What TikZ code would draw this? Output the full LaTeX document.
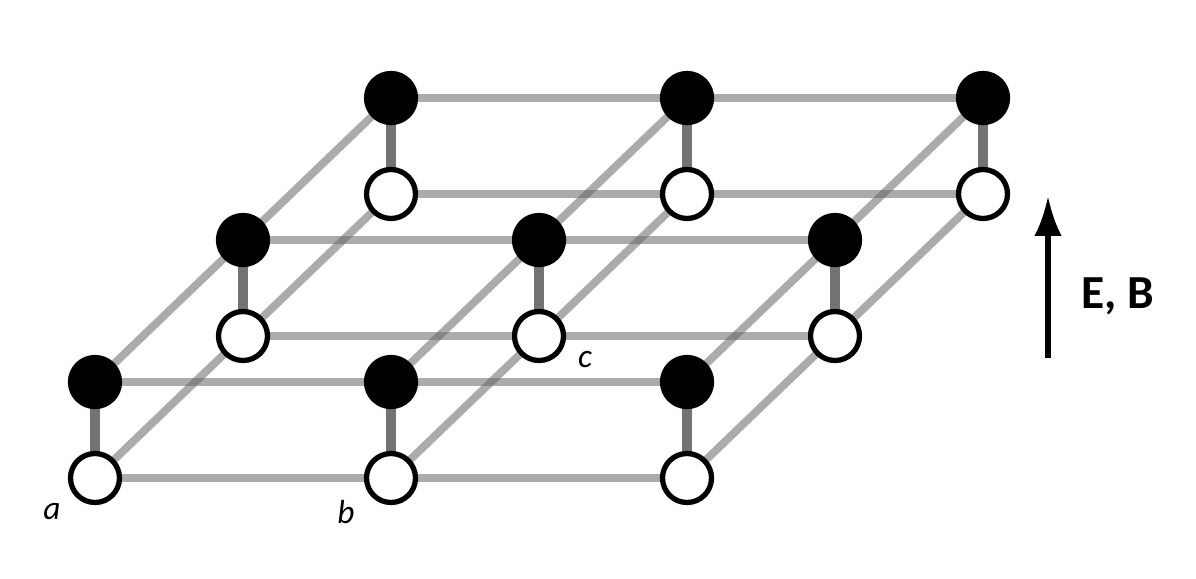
\documentclass[tikz,border=0pt]{standalone}
\usepackage{fontspec}
\setmainfont{Carlito}
\usetikzlibrary{arrows.meta}
\begin{document}
\begin{tikzpicture}[x=0.02cm,y=-0.02cm,
    site/.style={circle,draw=black,line width=3pt,minimum size=0.98cm,inner sep=0pt},
    up/.style={site,fill=black},
    down/.style={site,fill=white},
    bond/.style={line width=4.5pt,black!60,opacity=0.55},
    pair/.style={line width=5.5pt,black!55}]
    \useasboundingbox (0,0) rectangle (1196,578);
    % Nodes
    \foreach \i in {0,1,2} {
        \foreach \j in {0,1,2} {
            \coordinate (U\i\j) at (95+296*\i+148*\j, 382-142*\j);
            \coordinate (D\i\j) at (95+296*\i+148*\j, 478-142*\j);
        }
    }
    % Bonds
    \foreach \i/\k in {0/1,1/2} {
        \foreach \j in {0,1,2} {
            \draw[bond] (U\i\j) -- (U\k\j);
            \draw[bond] (D\i\j) -- (D\k\j);
            \draw[bond] (U\j\i) -- (U\j\k);
            \draw[bond] (D\j\i) -- (D\j\k);
        }
    }
    \foreach \i in {0,1,2} {
        \foreach \j in {0,1,2} {
            \draw[pair] (U\i\j) -- (D\i\j);
            \node[up] (u\i\j) at (U\i\j) {};
            \node[down] (d\i\j) at (D\i\j) {};
        }
    }
    % Labels
    \node[font=\itshape\fontsize{19}{22}\selectfont] (la) at (52,512) {a};
    \node[font=\itshape\fontsize{19}{22}\selectfont] (lb) at (346,512) {b};
    \node[font=\itshape\fontsize{19}{22}\selectfont] (lc) at (585,360) {c};
    % Field
    \coordinate (fbot) at (1048,358);
    \coordinate (ftop) at (1048,196);
    \draw[line width=3.2pt,-{Latex[length=0.8cm,width=0.55cm]}] (fbot) -- (ftop);
    \node[font=\bfseries\fontsize{27}{30}\selectfont] (field) at (1118,296) {E, B};
\end{tikzpicture}
\end{document}
